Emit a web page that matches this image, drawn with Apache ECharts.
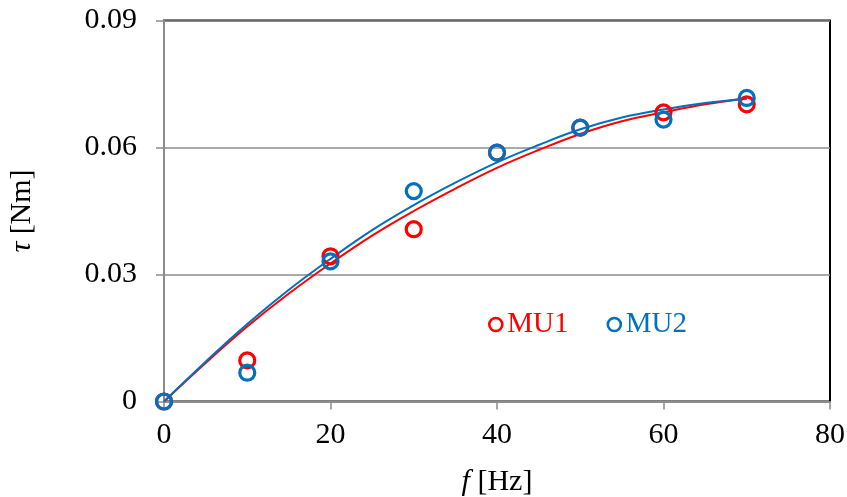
<!DOCTYPE html>
<html>
<head>
<meta charset="utf-8">
<script src="https://cdn.jsdelivr.net/npm/echarts@6/dist/echarts.min.js"></script>
<style>
  html, body { margin: 0; padding: 0; background: #fff; }
  #chart { width: 847px; height: 497px; }
</style>
</head>
<body>
<div id="chart"></div>
<script>
// Measured torque vs. frequency for two motor units
const freqs = [0, 10, 20, 30, 40, 50, 60, 70];
const mu1Torque = [0, 0.0097, 0.0343, 0.0407, 0.0588, 0.0647, 0.0683, 0.0702];
const mu2Torque = [0, 0.0068, 0.0331, 0.0497, 0.0588, 0.0647, 0.0666, 0.0717];

// Trend curves sampled every 5 Hz
const trendFreqs = [0, 5, 10, 15, 20, 25, 30, 35, 40, 45, 50, 55, 60, 65, 70];
const mu1Trend = [0, 0.0091, 0.0177, 0.0255, 0.0326, 0.0392, 0.0450, 0.0503, 0.0552, 0.0594, 0.0632, 0.0662, 0.0683, 0.0702, 0.0716];
const mu2Trend = [0, 0.0094, 0.0183, 0.0264, 0.0337, 0.0405, 0.0464, 0.0517, 0.0565, 0.0606, 0.0643, 0.0671, 0.0690, 0.0705, 0.0716];

const xTicks = [0, 20, 40, 60, 80];
const yTicks = [0, 0.03, 0.06, 0.09];

const RED = '#FF0000';
const BLUE = '#0070C0';
const FONT = "'Liberation Serif', 'Times New Roman', serif";
const FS = 30;

const pairs = (xs, ys) => xs.map((x, i) => [x, ys[i]]);

const chart = echarts.init(document.getElementById('chart'), null, { renderer: 'canvas' });

chart.setOption({
  backgroundColor: '#fff',
  animation: false,
  textStyle: { fontFamily: FONT },
  grid: {
    left: 164, right: 17, top: 20.5, bottom: 95.5,
    containLabel: false, outerBoundsMode: 'none',
    show: true, borderColor: '#000', borderWidth: 2, backgroundColor: 'transparent'
  },
  legend: {
    left: 483, top: 305,
    itemWidth: 13, itemHeight: 13, itemGap: 38,
    icon: 'circle',
    textStyle: { fontFamily: FONT, fontSize: 29 },
    itemStyle: { color: 'rgba(0,0,0,0)', borderWidth: 2.6, opacity: 1 },
    data: [
      { name: 'MU1', textStyle: { color: RED }, itemStyle: { borderColor: RED } },
      { name: 'MU2', textStyle: { color: BLUE }, itemStyle: { borderColor: BLUE } }
    ]
  },
  xAxis: {
    type: 'value',
    min: xTicks[0], max: xTicks[xTicks.length - 1], interval: 20,
    name: '{i|f} [Hz]',
    nameLocation: 'middle', nameGap: 66,
    nameTextStyle: {
      fontFamily: FONT, fontSize: FS, color: '#000',
      rich: { i: { fontFamily: FONT, fontSize: FS, fontStyle: 'italic', color: '#000' } }
    },
    axisLine: { show: true, onZero: false, lineStyle: { color: '#8C8C8C', width: 2 } },
    axisTick: { show: true, length: 8, inside: false, lineStyle: { color: '#8C8C8C', width: 1.5 } },
    axisLabel: { fontFamily: FONT, fontSize: FS, color: '#000', margin: 19 },
    splitLine: { show: false }
  },
  yAxis: {
    type: 'value',
    min: yTicks[0], max: yTicks[yTicks.length - 1], interval: 0.03,
    name: '{i|τ} [Nm]',
    nameLocation: 'middle', nameGap: 127, nameRotate: 90,
    nameTextStyle: {
      fontFamily: FONT, fontSize: FS, color: '#000',
      rich: { i: { fontFamily: FONT, fontSize: FS, fontStyle: 'italic', color: '#000' } }
    },
    axisLine: { show: true, onZero: false, lineStyle: { color: '#8C8C8C', width: 2 } },
    axisTick: { show: true, length: 8, inside: false, lineStyle: { color: '#8C8C8C', width: 1.5 } },
    axisLabel: {
      fontFamily: FONT, fontSize: FS, color: '#000', margin: 27,
      formatter: v => (Math.abs(v) < 1e-9 ? '0' : v.toFixed(2))
    },
    splitLine: { show: true, lineStyle: { color: '#8C8C8C', width: 1.5 } }
  },
  series: [
    {
      name: 'MU1 trend', type: 'line', data: pairs(trendFreqs, mu1Trend),
      smooth: 0.4, showSymbol: false, symbol: 'none',
      lineStyle: { color: RED, width: 2 }, z: 2
    },
    {
      name: 'MU2 trend', type: 'line', data: pairs(trendFreqs, mu2Trend),
      smooth: 0.4, showSymbol: false, symbol: 'none',
      lineStyle: { color: BLUE, width: 2 }, z: 3
    },
    {
      name: 'MU1', type: 'scatter', data: pairs(freqs, mu1Torque),
      symbol: 'circle', symbolSize: 15, clip: false,
      itemStyle: { color: 'rgba(0,0,0,0)', borderColor: RED, borderWidth: 3.2, opacity: 1 }, z: 4
    },
    {
      name: 'MU2', type: 'scatter', data: pairs(freqs, mu2Torque),
      symbol: 'circle', symbolSize: 15, clip: false,
      itemStyle: { color: 'rgba(0,0,0,0)', borderColor: BLUE, borderWidth: 3.2, opacity: 1 }, z: 5
    }
  ]
});
</script>
</body>
</html>
